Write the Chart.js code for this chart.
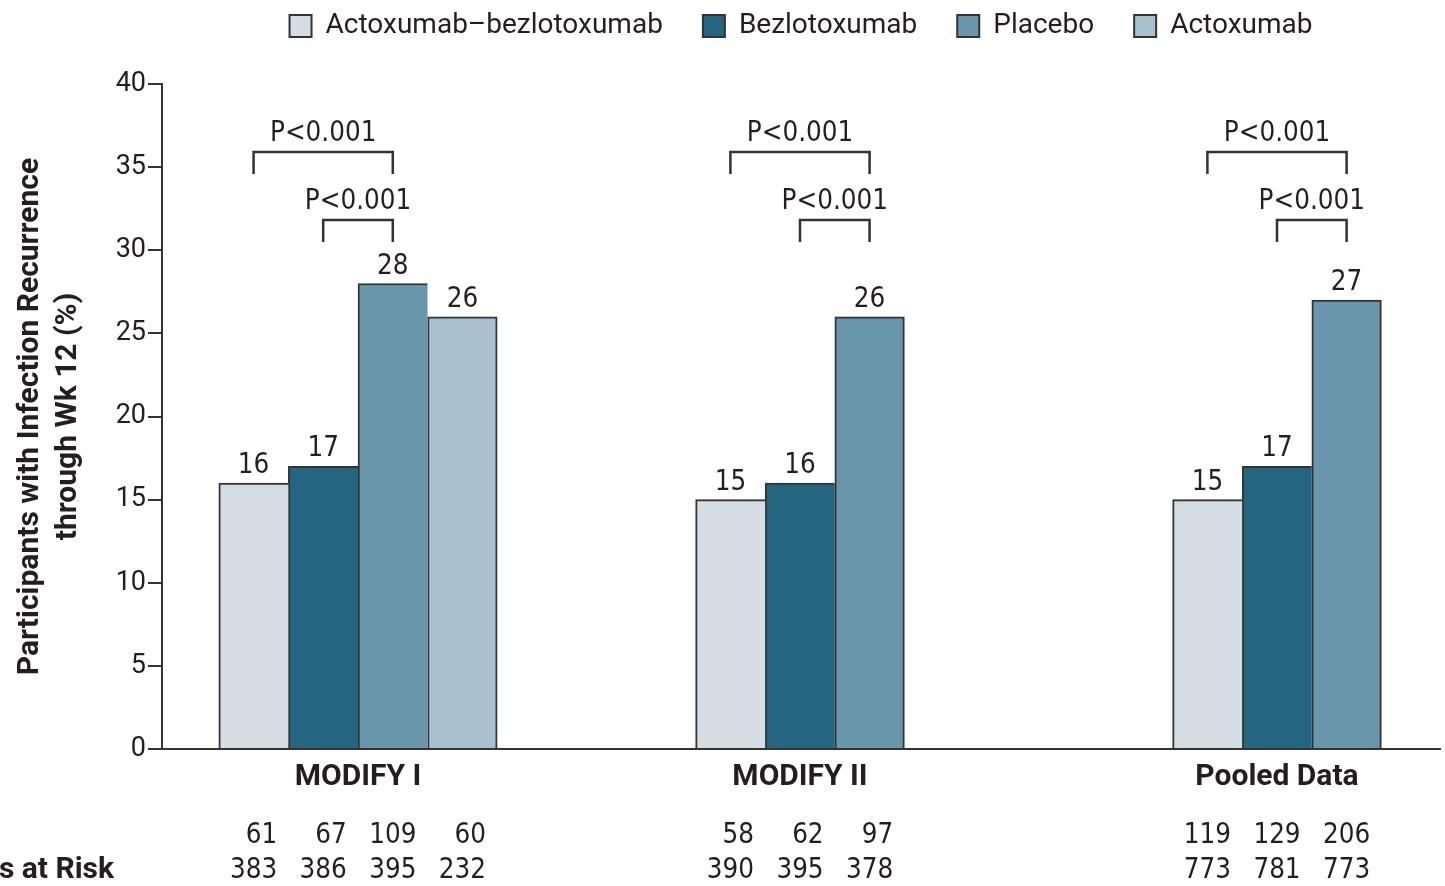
<!DOCTYPE html>
<html>
<head>
<meta charset="utf-8">
<script src="https://cdn.jsdelivr.net/npm/chart.js@4.4.1/dist/chart.umd.min.js"></script>
<style>
  html, body { margin: 0; padding: 0; background: #ffffff; }
  canvas { display: block; }
</style>
</head>
<body>
<canvas id="recurrence" width="1445" height="886"></canvas>
<script>
// ---- Data -------------------------------------------------------------
const groups = ['MODIFY I', 'MODIFY II', 'Pooled Data'];
const seriesNames = ['Actoxumab\u2013bezlotoxumab', 'Bezlotoxumab', 'Placebo', 'Actoxumab'];

// Percentage of participants with recurrence through week 12
const comboPct   = [16, 15, 15];
const bezloPct   = [17, 16, 17];
const placeboPct = [28, 26, 27];
const actoxPct   = [26, null, null];

// Participants with recurrence (events)
const comboEvents   = [61, 58, 119];
const bezloEvents   = [67, 62, 129];
const placeboEvents = [109, 97, 206];
const actoxEvents   = [60, null, null];

// Participants at risk
const comboAtRisk   = [383, 390, 773];
const bezloAtRisk   = [386, 395, 781];
const placeboAtRisk = [395, 378, 773];
const actoxAtRisk   = [232, null, null];

const yTicks = [0, 5, 10, 15, 20, 25, 30, 35, 40];
const pLabel = 'P<0.001';

// ---- Layout & style ---------------------------------------------------
const groupCenters = [196, 638, 1115];   // along a 0..1278 horizontal axis
const X_SPAN = 1278;
const BAR_W = 69.6;
const FONT_MAIN = 'Roboto, "Liberation Sans", sans-serif';
const FONT_NARROW = '"Liberation Sans Narrow", "DejaVu Sans Condensed", Roboto, sans-serif';
const NARROW_SIZE = 27.5;
const INK = '#231f20';
const EDGE = '#333333';
const seriesColors = ['#d5dde4', '#246680', '#6996ab', '#a9c1cf'];

const seriesPct = [comboPct, bezloPct, placeboPct, actoxPct];
const tableRows = [
  [comboEvents, bezloEvents, placeboEvents, actoxEvents],
  [comboAtRisk, bezloAtRisk, placeboAtRisk, actoxAtRisk]
];

// Brackets comparing Actoxumab–bezlotoxumab and Bezlotoxumab with Placebo
const comparisons = [
  { from: 0, to: 2, level: 35.9 },
  { from: 1, to: 2, level: 31.8 }
];

function hasLaterBar(chart, datasetIndex, dataIndex) {
  const sets = chart.data.datasets;
  for (let d = datasetIndex + 1; d < sets.length; d++) {
    const p = sets[d].data[dataIndex];
    if (p && p.y !== null && p.y !== undefined) return true;
  }
  return false;
}

const datasets = seriesNames.map((name, s) => ({
  label: name,
  data: groupCenters.map((x, g) => ({ x: x, y: seriesPct[s][g] })),
  backgroundColor: seriesColors[s],
  borderColor: EDGE,
  borderWidth: (ctx) => {
    if (ctx.type !== 'data') return 2;
    return { top: 2, left: 2, bottom: 0,
             right: hasLaterBar(ctx.chart, ctx.datasetIndex, ctx.dataIndex) ? 0 : 2 };
  },
  borderSkipped: 'start',
  barThickness: BAR_W,
  skipNull: true
}));

// Extra room between the legend and the plot
const legendSpacing = {
  id: 'legendSpacing',
  beforeInit(chart) {
    const fit = chart.legend.fit;
    chart.legend.fit = function () {
      fit.call(this);
      this.height += 34;
    };
  }
};

// Value labels, significance brackets and the participant table
const annotations = {
  id: 'annotations',
  afterDatasetsDraw(chart) {
    const ctx = chart.ctx;
    const yScale = chart.scales.y;
    ctx.save();
    ctx.fillStyle = INK;
    ctx.textAlign = 'center';
    ctx.textBaseline = 'alphabetic';
    ctx.font = NARROW_SIZE + 'px ' + FONT_NARROW;

    // numbers above the bars
    seriesPct.forEach((vals, s) => {
      const meta = chart.getDatasetMeta(s);
      vals.forEach((v, g) => {
        if (v === null) return;
        const el = meta.data[g];
        ctx.fillText(String(v), el.x, el.y - 10);
      });
    });

    // brackets
    ctx.strokeStyle = EDGE;
    ctx.lineWidth = 2.5;
    groups.forEach((_, g) => {
      comparisons.forEach((c) => {
        const a = chart.getDatasetMeta(c.from).data[g];
        const b = chart.getDatasetMeta(c.to).data[g];
        const top = Math.round(yScale.getPixelForValue(c.level));
        ctx.beginPath();
        ctx.moveTo(a.x, top + 22);
        ctx.lineTo(a.x, top);
        ctx.lineTo(b.x, top);
        ctx.lineTo(b.x, top + 22);
        ctx.stroke();
        ctx.fillText(pLabel, (a.x + b.x) / 2, top - 11);
      });
    });

    // participant counts under each bar, right-aligned per column
    const base = chart.chartArea.bottom;
    const rowY = [base + 94, base + 129];
    ctx.textAlign = 'right';
    groups.forEach((_, g) => {
      seriesPct.forEach((vals, s) => {
        if (vals[g] === null) return;
        const el = chart.getDatasetMeta(s).data[g];
        const texts = tableRows.map(r => String(r[s][g]));
        const w = Math.max(...texts.map(t => ctx.measureText(t).width));
        texts.forEach((t, r) => ctx.fillText(t, el.x + w / 2, rowY[r]));
      });
    });

    ctx.font = 'bold 30px ' + FONT_MAIN;
    ctx.fillText('No. of Participants at Risk', 114, rowY[1]);
    ctx.restore();
  }
};

new Chart(document.getElementById('recurrence'), {
  type: 'bar',
  data: { datasets: datasets },
  plugins: [legendSpacing, annotations],
  options: {
    responsive: false,
    animation: false,
    devicePixelRatio: 1,
    events: [],
    layout: { padding: { top: -28, right: 5, bottom: 0, left: 0 } },
    plugins: {
      tooltip: { enabled: false },
      legend: {
        position: 'top',
        fullSize: false,
        labels: {
          boxWidth: 22,
          boxHeight: 22,
          padding: 40,
          color: INK,
          font: { family: FONT_MAIN, size: 28 },
          generateLabels(chart) {
            const items = Chart.defaults.plugins.legend.labels.generateLabels(chart);
            items.forEach(it => { it.lineWidth = 2; it.strokeStyle = EDGE; });
            return items;
          }
        }
      }
    },
    scales: {
      x: {
        type: 'linear',
        min: 0,
        max: X_SPAN,
        offset: false,
        afterBuildTicks: (s) => { s.ticks = groupCenters.map(v => ({ value: v })); },
        ticks: {
          autoSkip: false,
          maxRotation: 0,
          padding: 10,
          color: INK,
          font: { family: FONT_MAIN, size: 30, weight: 'bold' },
          callback: (v, i) => groups[i]
        },
        grid: { display: true, drawOnChartArea: false, drawTicks: false },
        border: { display: true, color: EDGE, width: 2 },
        afterFit: (s) => { s.height = 137; }
      },
      y: {
        min: 0,
        max: 40,
        afterBuildTicks: (s) => { s.ticks = yTicks.map(v => ({ value: v })); },
        ticks: {
          padding: 2,
          color: INK,
          font: { family: FONT_MAIN, size: 27 }
        },
        grid: { drawOnChartArea: false, drawTicks: true, tickLength: 14, color: EDGE, lineWidth: 2 },
        border: { display: true, color: EDGE, width: 2 },
        title: {
          display: true,
          text: ['Participants with Infection Recurrence', 'through Wk 12 (%)'],
          color: INK,
          font: { family: FONT_MAIN, size: 30, weight: 'bold', lineHeight: 1.27 },
          padding: { top: 11, bottom: 0 }
        },
        afterFit: (s) => { s.width = 162; }
      }
    }
  }
});
</script>
</body>
</html>
